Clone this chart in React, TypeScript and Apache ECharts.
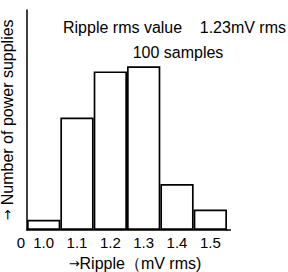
import React, { useEffect, useRef } from "react";
import * as echarts from "echarts";

const categories = ["1.0", "1.1", "1.2", "1.3", "1.4", "1.5"];
const counts = [2, 22, 31, 32, 9, 4];
const titleLabel = "Ripple rms value";
const titleValue = "1.23mV rms";
const titleLine2 = "100 samples";
const xName = "Ripple（mV rms)";
const yName = "Number of power supplies";

const FONT = "'Liberation Sans', Arial, Helvetica, sans-serif";
const ARROW_FONT = "'DejaVu Sans', sans-serif";

export default function App() {
  const ref = useRef<HTMLDivElement>(null);
  useEffect(() => {
    if (!ref.current) return;
    const chart = echarts.init(ref.current, undefined, { renderer: "svg" });
    chart.setOption({
      animation: false,
      backgroundColor: "#fff",
      grid: { left: 27, top: 10, width: 200, height: 220, outerBoundsMode: "none", containLabel: false },
      xAxis: {
        type: "category",
        data: categories,
        axisTick: { show: false },
        axisLine: { lineStyle: { color: "#000", width: 1.5 } },
        axisLabel: { color: "#000", fontSize: 15, fontFamily: FONT, margin: 5 },
        splitLine: { show: false },
      },
      yAxis: {
        type: "value",
        min: 0,
        max: 43,
        axisLabel: { show: false },
        axisTick: { show: false },
        splitLine: { show: false },
        axisLine: { show: true, lineStyle: { color: "#000", width: 1.5 } },
        name: "{a|→} " + yName,
        nameLocation: "middle",
        nameRotate: 90,
        nameGap: 12,
        nameTextStyle: {
          color: "#000",
          fontSize: 16,
          fontFamily: FONT,
          rich: { a: { fontFamily: ARROW_FONT, fontSize: 13, color: "#000" } },
        },
      },
      series: [
        {
          type: "bar",
          data: counts,
          barCategoryGap: "0%",
          itemStyle: { color: "#fff", borderColor: "#000", borderWidth: 1.7 },
        },
      ],
      graphic: [
        {
          type: "line",
          shape: { x1: 226, y1: 230, x2: 231, y2: 230 },
          style: { stroke: "#000", lineWidth: 1.5 },
        },
        {
          type: "text",
          x: 21,
          y: 242,
          style: { text: "0", fill: "#000", fontSize: 15, fontFamily: FONT, align: "center", verticalAlign: "middle" },
        },
        {
          type: "text",
          x: 135,
          y: 263,
          style: {
            text: "{a|→}" + xName,
            fill: "#000",
            fontSize: 16,
            fontFamily: FONT,
            align: "center",
            verticalAlign: "middle",
            rich: { a: { fontFamily: ARROW_FONT, fontSize: 13, fill: "#000" } },
          },
        },
        {
          type: "text",
          x: 63,
          y: 27,
          style: { text: titleLabel, fill: "#000", fontSize: 16, fontFamily: FONT, align: "left", verticalAlign: "middle" },
        },
        {
          type: "text",
          x: 286,
          y: 27,
          style: { text: titleValue, fill: "#000", fontSize: 16, fontFamily: FONT, align: "right", verticalAlign: "middle" },
        },
        {
          type: "text",
          x: 178,
          y: 52,
          style: { text: titleLine2, fill: "#000", fontSize: 16, fontFamily: FONT, align: "center", verticalAlign: "middle" },
        },
      ],
    });
    return () => chart.dispose();
  }, []);
  return <div ref={ref} style={{ position: "fixed", left: 0, top: 0, width: 288, height: 272 }} />;
}
